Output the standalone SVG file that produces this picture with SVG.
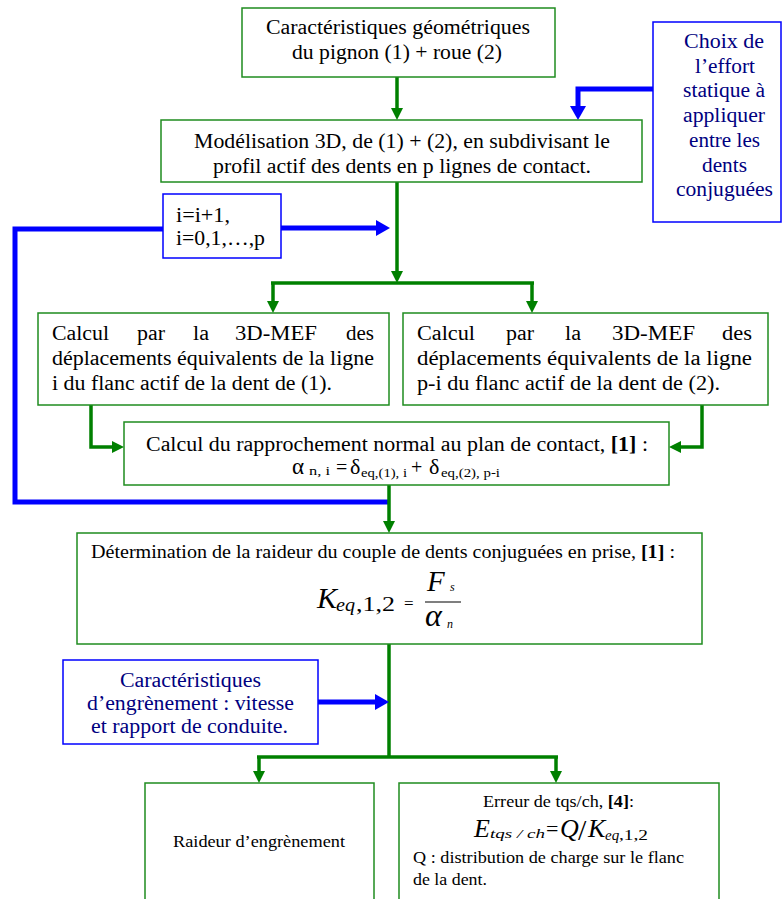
<svg xmlns="http://www.w3.org/2000/svg" width="782" height="899" viewBox="0 0 782 899">
<style>
.gb{fill:#fff;stroke:#1f8c1f;stroke-width:1.5}
.bb{fill:#fff;stroke:#0000ff;stroke-width:1.5}
.t{font-family:"Liberation Serif","Times New Roman",serif;fill:#000}
.m{font-size:20px}
.s{font-size:17px}
.bt{font-family:"Liberation Serif","Times New Roman",serif;fill:#000080;font-size:20px}
.c{text-anchor:middle}
.i{font-style:italic}
.gl{fill:none;stroke:#008000;stroke-width:3.5}
.bl{fill:none;stroke:#0000ff;stroke-width:5}
.ga{fill:#008000}
.ba{fill:#0000ff}
</style>
<rect width="782" height="899" fill="#fff"/>
<g id="connectors">
<path class="gl" d="M397,77V108"/><polygon class="ga" points="391,108 403,108 397,120"/>
<path class="bl" d="M653,89H578V106"/><polygon class="ba" points="570,106 586,106 578,120"/>
<path class="gl" d="M397,182V272"/><polygon class="ga" points="391,271 403,271 397,283"/>
<path class="gl" d="M271,283H534"/>
<path class="gl" d="M273,283V301"/><polygon class="ga" points="267,301 279,301 273,313"/>
<path class="gl" d="M532,283V301"/><polygon class="ga" points="526,301 538,301 532,313"/>
<path class="bl" d="M281,228H377"/><polygon class="ba" points="376,220 376,236 390,228"/>
<path class="bl" d="M163,229H15V502H389"/>
<path class="gl" d="M91,405V447H112"/><polygon class="ga" points="112,441 112,453 124,447"/>
<path class="gl" d="M702,405V447H681"/><polygon class="ga" points="681,441 681,453 669,447"/>
<path class="gl" d="M389,485V521"/><polygon class="ga" points="383,521 395,521 389,533"/>
<path class="gl" d="M389,644V757"/>
<path class="gl" d="M257,757H558"/>
<path class="gl" d="M259,757V771"/><polygon class="ga" points="253,771 265,771 259,783"/>
<path class="gl" d="M556,757V771"/><polygon class="ga" points="550,771 562,771 556,783"/>
<path class="bl" d="M318,702H376"/><polygon class="ba" points="375,694 375,710 389,702"/>
</g>
<g id="n1">
<rect class="gb" x="242" y="8" width="313" height="69"/>
<text class="t m" x="266" y="34" textLength="264" lengthAdjust="spacingAndGlyphs">Caractéristiques géométriques</text>
<text class="t m" x="292" y="59" textLength="210" lengthAdjust="spacingAndGlyphs">du pignon (1) + roue (2)</text>
</g>
<g id="n_effort">
<rect class="bb" x="653" y="22" width="128" height="200"/>
<text class="bt" x="684" y="48" textLength="80" lengthAdjust="spacingAndGlyphs">Choix de</text>
<text class="bt" x="695" y="73" textLength="60" lengthAdjust="spacingAndGlyphs">l’effort</text>
<text class="bt" x="683" y="97" textLength="82" lengthAdjust="spacingAndGlyphs">statique à</text>
<text class="bt" x="683" y="122" textLength="82" lengthAdjust="spacingAndGlyphs">appliquer</text>
<text class="bt" x="689" y="147" textLength="71" lengthAdjust="spacingAndGlyphs">entre les</text>
<text class="bt" x="702" y="172" textLength="45" lengthAdjust="spacingAndGlyphs">dents</text>
<text class="bt" x="676" y="196" textLength="97" lengthAdjust="spacingAndGlyphs">conjuguées</text>
</g>
<g id="n2">
<rect class="gb" x="161" y="120" width="481" height="62"/>
<text class="t m" x="194" y="148" textLength="416" lengthAdjust="spacingAndGlyphs">Modélisation 3D, de (1) + (2), en subdivisant le</text>
<text class="t m" x="213" y="173" textLength="378" lengthAdjust="spacingAndGlyphs">profil actif des dents en p lignes de contact.</text>
</g>
<g id="n_iter">
<rect class="bb" x="163" y="194" width="118" height="64"/>
<text class="t m" x="176" y="222" textLength="54" lengthAdjust="spacingAndGlyphs">i=i+1,</text>
<text class="t m" x="176" y="245" textLength="89" lengthAdjust="spacingAndGlyphs">i=0,1,…,p</text>
</g>
<g id="n3a">
<rect class="gb" x="38" y="313" width="351" height="92"/>
<text class="t m" y="340"><tspan x="52" textLength="57" lengthAdjust="spacingAndGlyphs">Calcul</tspan><tspan x="137" textLength="28" lengthAdjust="spacingAndGlyphs">par</tspan><tspan x="193" textLength="16" lengthAdjust="spacingAndGlyphs">la</tspan><tspan x="235" textLength="82" lengthAdjust="spacingAndGlyphs">3D-MEF</tspan><tspan x="346" textLength="28" lengthAdjust="spacingAndGlyphs">des</tspan></text>
<text class="t m" x="52" y="365" textLength="322" lengthAdjust="spacingAndGlyphs">déplacements équivalents de la ligne</text>
<text class="t m" x="52" y="390" textLength="280" lengthAdjust="spacingAndGlyphs">i du flanc actif de la dent de (1).</text>
</g>
<g id="n3b">
<rect class="gb" x="403" y="313" width="365" height="92"/>
<text class="t m" y="340"><tspan x="417" textLength="58" lengthAdjust="spacingAndGlyphs">Calcul</tspan><tspan x="506" textLength="28" lengthAdjust="spacingAndGlyphs">par</tspan><tspan x="565" textLength="16" lengthAdjust="spacingAndGlyphs">la</tspan><tspan x="612" textLength="83" lengthAdjust="spacingAndGlyphs">3D-MEF</tspan><tspan x="722" textLength="30" lengthAdjust="spacingAndGlyphs">des</tspan></text>
<text class="t m" x="417" y="365" textLength="335" lengthAdjust="spacingAndGlyphs">déplacements équivalents de la ligne</text>
<text class="t m" x="417" y="390" textLength="303" lengthAdjust="spacingAndGlyphs">p-i du flanc  actif de la dent de (2).</text>
</g>
<g id="n4">
<rect class="gb" x="124" y="422" width="545" height="63"/>
<text class="t m" x="146" y="451" textLength="502" lengthAdjust="spacingAndGlyphs">Calcul du rapprochement normal au plan de contact, <tspan font-weight="bold">[1]</tspan> :</text>
<text class="t" font-size="23" x="292" y="474">α</text>
<text class="t" font-size="13" x="309" y="475" textLength="21" lengthAdjust="spacingAndGlyphs">n, i</text>
<text class="t" font-size="20" x="336" y="474">=</text>
<text class="t" font-size="22" x="350" y="474">δ</text>
<text class="t" font-size="13" x="361" y="477" textLength="46" lengthAdjust="spacingAndGlyphs">eq,(1), i</text>
<text class="t" font-size="20" x="411" y="474">+</text>
<text class="t" font-size="22" x="429" y="474">δ</text>
<text class="t" font-size="13" x="441" y="477" textLength="59" lengthAdjust="spacingAndGlyphs">eq,(2), p-i</text>
</g>
<g id="n5">
<rect class="gb" x="77" y="533" width="625" height="111"/>
<text class="t" font-size="18" x="91" y="558" textLength="584" lengthAdjust="spacingAndGlyphs">Détermination de la raideur du couple de dents conjuguées en prise, <tspan font-weight="bold">[1]</tspan> :</text>
<text class="t i" font-size="30" x="317" y="608">K</text>
<text class="t i" font-size="19" x="336" y="611" textLength="19" lengthAdjust="spacingAndGlyphs">eq</text>
<text class="t" font-size="20" x="356" y="611" textLength="39" lengthAdjust="spacingAndGlyphs">,1,2</text>
<text class="t" font-size="17" x="404" y="609">=</text>
<text class="t i" font-size="29" x="427" y="591">F</text>
<text class="t i" font-size="12" x="450" y="591">s</text>
<path d="M425,602H461" stroke="#000" stroke-width="1.2"/>
<text class="t i" font-size="32" x="425" y="626">α</text>
<text class="t i" font-size="12" x="447" y="628">n</text>
</g>
<g id="n_engr">
<rect class="bb" x="63" y="660" width="255" height="84"/>
<text class="bt" x="120" y="687" textLength="141" lengthAdjust="spacingAndGlyphs">Caractéristiques</text>
<text class="bt" x="87" y="710" textLength="207" lengthAdjust="spacingAndGlyphs">d’engrènement : vitesse</text>
<text class="bt" x="91" y="733" textLength="197" lengthAdjust="spacingAndGlyphs">et rapport de conduite.</text>
</g>
<g id="n6a">
<rect class="gb" x="145" y="783" width="229" height="130"/>
<text class="t s" x="173" y="847" textLength="172" lengthAdjust="spacingAndGlyphs">Raideur d’engrènement</text>
</g>
<g id="n6b">
<rect class="gb" x="399" y="783" width="320" height="130"/>
<text class="t s" x="483" y="807" textLength="151" lengthAdjust="spacingAndGlyphs">Erreur de tqs/ch, <tspan font-weight="bold">[4]</tspan>:</text>
<text class="t i" font-size="26" x="474" y="837">E</text>
<text class="t i" font-size="13" x="490" y="838" textLength="55" lengthAdjust="spacingAndGlyphs">tqs / ch</text>
<text class="t" font-size="22" x="546" y="836">=</text>
<text class="t i" font-size="26" x="560" y="837">Q</text>
<text class="t" font-size="30" x="578" y="840">/</text>
<text class="t i" font-size="26" x="588" y="837">K</text>
<text class="t i" font-size="15" x="605" y="840">eq</text>
<text class="t" font-size="15" x="619" y="840" textLength="29" lengthAdjust="spacingAndGlyphs">,1,2</text>
<text class="t s" x="413" y="863" textLength="271" lengthAdjust="spacingAndGlyphs">Q : distribution de charge sur le flanc</text>
<text class="t s" x="413" y="885" textLength="74" lengthAdjust="spacingAndGlyphs">de la dent.</text>
</g>
</svg>
